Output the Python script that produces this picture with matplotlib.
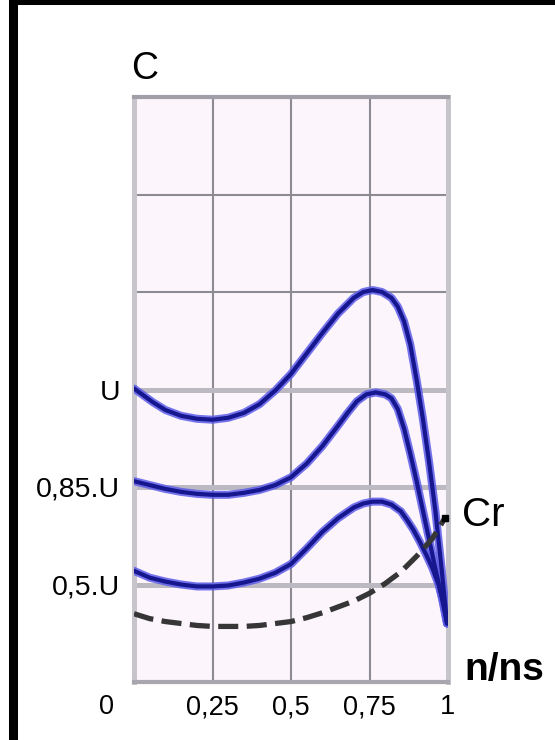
import matplotlib.pyplot as plt
from matplotlib.patches import Rectangle

# popisky os
x_ticks = [0.25, 0.5, 0.75, 1.0]
x_labels = ["0,25", "0,5", "0,75", "1"]
y_ticks = [1, 2, 3]
y_labels = ["0,5.U", "0,85.U", "U"]

# momentova charakteristika pri napeti U
u_x = [0.0, 0.03, 0.06, 0.10, 0.15, 0.20, 0.25, 0.30, 0.35, 0.40, 0.45,
       0.50, 0.55, 0.60, 0.65, 0.70, 0.73, 0.76, 0.79, 0.82, 0.84, 0.86,
       0.88, 0.90, 0.92, 0.94, 0.96, 0.98, 0.997]
u_y = [3.01, 2.94, 2.87, 2.79, 2.73, 2.70, 2.69, 2.71, 2.76, 2.85, 2.99,
       3.16, 3.37, 3.58, 3.78, 3.94, 4.00, 4.02, 4.00, 3.94, 3.85, 3.70,
       3.46, 3.10, 2.70, 2.25, 1.75, 1.15, 0.60]

# pri napeti 0,85.U
u85_x = [0.0, 0.05, 0.10, 0.15, 0.20, 0.25, 0.30, 0.35, 0.40, 0.45, 0.50,
         0.55, 0.60, 0.65, 0.68, 0.71, 0.74, 0.77, 0.80, 0.82, 0.84, 0.86,
         0.88, 0.90, 0.92, 0.94, 0.96, 0.98, 0.997]
u85_y = [2.06, 2.02, 1.98, 1.95, 1.93, 1.92, 1.92, 1.94, 1.97, 2.02, 2.10,
         2.24, 2.42, 2.63, 2.76, 2.88, 2.95, 2.97, 2.95, 2.91, 2.80, 2.60,
         2.34, 2.06, 1.76, 1.46, 1.16, 0.87, 0.60]

# pri napeti 0,5.U
u50_x = [0.0, 0.05, 0.10, 0.15, 0.20, 0.25, 0.30, 0.35, 0.40, 0.45, 0.50,
         0.55, 0.60, 0.65, 0.70, 0.73, 0.76, 0.79, 0.82, 0.85, 0.87, 0.89,
         0.91, 0.93, 0.95, 0.97, 0.985, 0.997]
u50_y = [1.14, 1.07, 1.03, 1.00, 0.98, 0.98, 0.99, 1.02, 1.06, 1.12, 1.21,
         1.37, 1.54, 1.68, 1.79, 1.83, 1.85, 1.85, 1.82, 1.75, 1.66, 1.56,
         1.44, 1.31, 1.17, 1.00, 0.82, 0.60]

# zatezny moment Cr
cr_x = [0.0, 0.05, 0.10, 0.15, 0.20, 0.25, 0.30, 0.35, 0.40, 0.45, 0.50,
        0.55, 0.60, 0.65, 0.70, 0.75, 0.80, 0.85, 0.90, 0.95, 0.99]
cr_y = [0.70, 0.65, 0.62, 0.60, 0.58, 0.57, 0.57, 0.57, 0.58, 0.60, 0.62,
        0.66, 0.71, 0.77, 0.83, 0.91, 1.01, 1.13, 1.29, 1.47, 1.68]

W, H = 555, 740
fig = plt.figure(figsize=(W / 100, H / 100), dpi=100)
plt.rcParams["font.family"] = ["Liberation Sans", "DejaVu Sans"]

ax = fig.add_axes([134 / W, 1 - 682 / H, 314 / W, 585 / H])
ax.set_facecolor("#fdf5fc")
ax.set_xlim(0, 1)
ax.set_ylim(0, 6)

# mrizka
for xv in [0.25, 0.5, 0.75]:
    ax.axvline(xv, color="#8c8a92", lw=1.5, zorder=1)
for yv in [4, 5]:
    ax.axhline(yv, color="#8c8a92", lw=1.5, zorder=1)
for yv in y_ticks:
    ax.axhline(yv, color="#bdb9c2", lw=3.6, zorder=1)

ax.spines["top"].set_color("#a29ea8")
ax.spines["top"].set_linewidth(3.0)
ax.spines["bottom"].set_color("#aaa6b0")
ax.spines["bottom"].set_linewidth(3.0)
for s in ["left", "right"]:
    ax.spines[s].set_color("#c8c4cc")
    ax.spines[s].set_linewidth(3.6)

# krivky - svetly okraj a tmave jadro
for xs, ys in [(u_x, u_y), (u85_x, u85_y), (u50_x, u50_y)]:
    ax.plot(xs, ys, color="#5c5ce8", lw=5.8, alpha=0.85,
            solid_joinstyle="round", solid_capstyle="round", zorder=3)
    ax.plot(xs, ys, color="#16168f", lw=3.0,
            solid_joinstyle="round", solid_capstyle="round", zorder=4)

ax.plot(cr_x, cr_y, color="#363636", lw=3.8, linestyle=(0, (3.8, 1.6)),
        zorder=5)
ax.plot(cr_x[-1], cr_y[-1], marker="s", ms=5, color="black",
        clip_on=False, zorder=6)

ax.set_xticks(x_ticks, x_labels, fontsize=19.5)
ax.set_yticks(y_ticks, y_labels, fontsize=20.5)
ax.tick_params(axis="x", length=0, pad=9)
ax.tick_params(axis="y", length=0, pad=10)

fig.text(106 / W, 1 - 707 / H, "0", ha="center", va="center", fontsize=19.5)
fig.text(145 / W, 1 - 69 / H, "C", ha="center", va="center", fontsize=27)
fig.text(462 / W, 1 - 515 / H, "Cr", ha="left", va="center", fontsize=29)
fig.text(464 / W, 1 - 670 / H, "n/ns", ha="left", va="center", fontsize=28,
         fontweight="bold")

# cerny ramecek
fig.patches.append(Rectangle((12.5 / W, -1.5 / H), 560 / W, 741 / H,
                             transform=fig.transFigure, fill=False,
                             edgecolor="black", lw=6.5))

fig.savefig("out.png", dpi=100)
